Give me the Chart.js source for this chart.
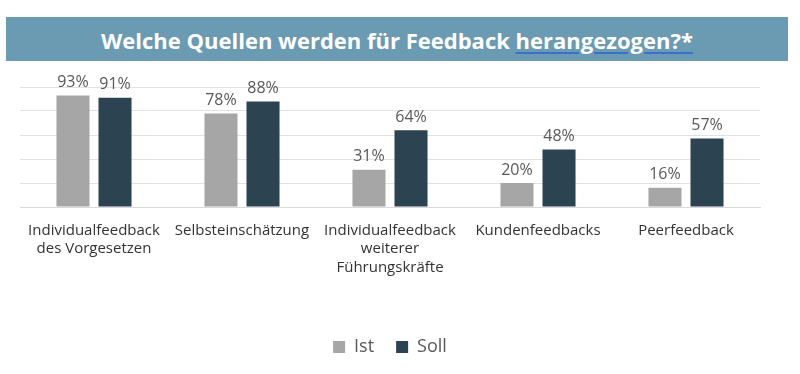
<!DOCTYPE html>
<html>
<head>
<meta charset="utf-8">
<script src="https://cdn.jsdelivr.net/npm/chart.js@4"></script>
<style>
    body { margin: 0; background: #fff; width: 800px; height: 374px; position: relative; overflow: hidden; }
    #banner {
        position: absolute; left: 6px; top: 17px; width: 782px; height: 44px;
        background: #6a9bb3; color: #fff; text-align: center;
        font: bold 22px "Open Sans", sans-serif; line-height: 46px;
    }
    #banner span { text-decoration: underline; text-decoration-color: #3a6fd0; text-underline-offset: 3px; }
    #wrap { position: absolute; left: 0; top: 61px; width: 800px; height: 313px; }
</style>
</head>
<body>
<div id="banner">Welche Quellen werden für Feedback <span>herangezogen?*</span></div>
<div id="wrap"><canvas id="chart"></canvas></div>
<script>
const categories = [
    ['Individualfeedback', 'des Vorgesetzen'],
    'Selbsteinschätzung',
    ['Individualfeedback', 'weiterer', 'Führungskräfte'],
    'Kundenfeedbacks',
    'Peerfeedback'
]
const istValues = [93, 78, 31, 20, 16]
const sollValues = [91, 88, 64, 48, 57]

// draws the percentage above every bar
const valueLabels = {
    id: 'valueLabels',
    afterDatasetsDraw(chart) {
        let ctx = chart.ctx
        ctx.save()
        ctx.font = '16px "Open Sans", sans-serif'
        ctx.fillStyle = '#595959'
        ctx.textAlign = 'center'
        ctx.textBaseline = 'bottom'
        chart.data.datasets.forEach((ds, i) => {
            chart.getDatasetMeta(i).data.forEach((bar, j) => {
                ctx.fillText(ds.data[j] + '%', bar.x, bar.y - 5)
            })
        })
        ctx.restore()
    }
}

let ctx = document.getElementById('chart').getContext('2d')
let chart = new Chart(ctx, {
    type: 'bar',
    data: {
        labels: categories,
        datasets: [{
            label: 'Ist',
            data: istValues,
            backgroundColor: '#a6a6a6'
        }, {
            label: 'Soll',
            data: sollValues,
            backgroundColor: '#2c4351'
        }]
    },
    options: {
        responsive: true,
        maintainAspectRatio: false,
        animation: false,
        categoryPercentage: 0.568,
        barPercentage: 0.786,
        layout: { padding: { left: 20, right: 40, top: 26, bottom: 8 } },
        plugins: {
            tooltip: { enabled: false },
            legend: {
                position: 'bottom',
                labels: {
                    boxWidth: 12,
                    boxHeight: 12,
                    padding: 22,
                    color: '#595959',
                    font: { family: 'Open Sans', size: 18 }
                }
            }
        },
        scales: {
            x: {
                grid: { display: false },
                border: { color: '#d9d9d9' },
                ticks: {
                    color: '#333',
                    padding: 6,
                    font: { family: 'Open Sans', size: 15, lineHeight: 1.25 }
                },
                afterFit: (scale) => { scale.height = 109 }
            },
            y: {
                min: 0,
                max: 100,
                ticks: { stepSize: 20, display: false },
                grid: { color: '#e2e2e2', drawTicks: false },
                border: { display: false }
            }
        }
    },
    plugins: [valueLabels]
})
</script>
</body>
</html>
